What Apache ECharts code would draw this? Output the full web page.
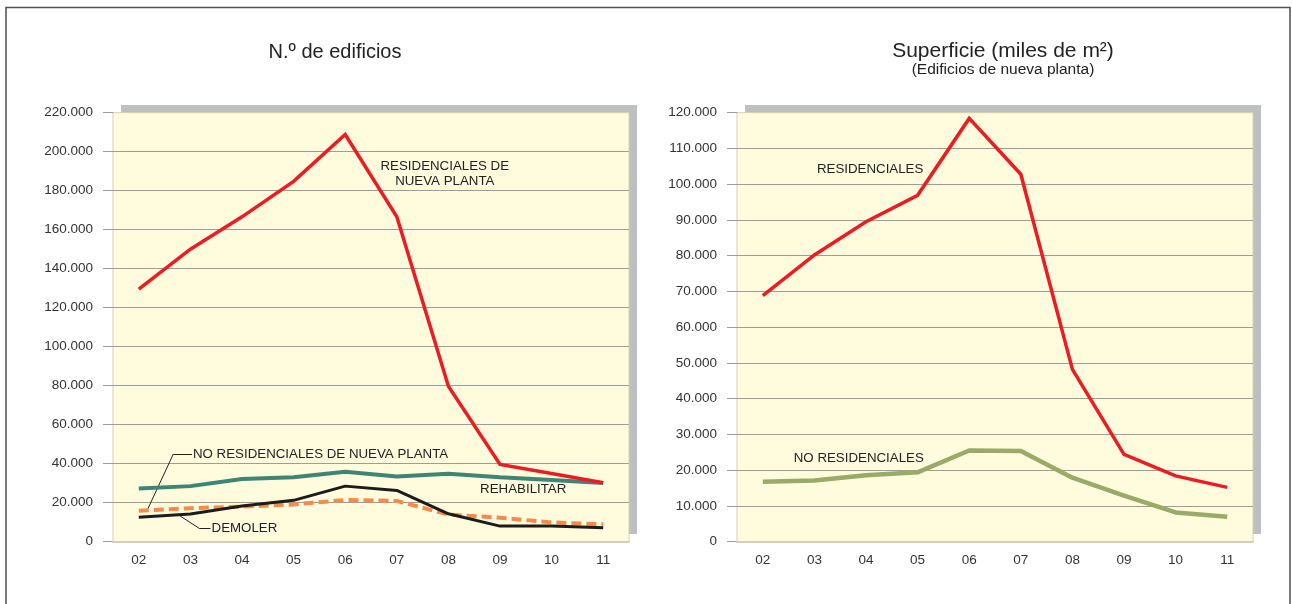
<!DOCTYPE html>
<html>
<head>
<meta charset="utf-8">
<script src="https://cdn.jsdelivr.net/npm/echarts@6/dist/echarts.min.js"></script>
<style>
html,body{margin:0;padding:0;background:#fff;}
#c{width:1292px;height:604px;}
</style>
</head>
<body>
<div id="c"></div>
<script>
// ---- data ----
const categories = ['02','03','04','05','06','07','08','09','10','11'];
// N.º de edificios
const resNuevaPlanta = [129500,150000,166600,184800,208800,166600,79700,39600,35000,30200];
const rehabilitar    = [27300,28500,32100,33100,35900,33400,34900,33100,31600,30100];
const demoler        = [12600,14200,18300,21200,28500,26300,14300,8000,8000,7200];
const noResNuevaPlanta = [15900,17200,18000,19100,21400,20900,13900,12300,9900,8900];
// Superficie (miles de m²)
const supResidenciales   = [68800,80200,89500,96900,118400,102800,48200,24400,18400,15200];
const supNoResidenciales = [16800,17100,18600,19400,25500,25400,17900,12900,8200,7000];
// axis settings
const leftMax = 220000, leftStep = 20000;
const rightMax = 120000, rightStep = 10000;
// titles / labels
const titleLeft = 'N.º de edificios';
const titleRight = 'Superficie (miles de m²)';
const subtitleRight = '(Edificios de nueva planta)';

const txtFont = '"Liberation Sans",Arial,Helvetica,sans-serif';

function thousands(v){
  return String(v).replace(/\B(?=(\d{3})+(?!\d))/g,'.');
}

const chart = echarts.init(document.getElementById('c'), null, {renderer:'canvas'});

const plotBg = '#fffbdd';
const plotBorder = '#d6d2ac';
const shadowCol = '#bdbfc1';
const gridCol = '#9c9c9c';

const G = {top:112.7, height:429, width:516};
const grids = [
  {left:113, top:G.top, width:G.width, height:G.height, show:true, backgroundColor:plotBg, borderColor:plotBorder, borderWidth:1, z:1},
  {left:737, top:G.top, width:G.width, height:G.height, show:true, backgroundColor:plotBg, borderColor:plotBorder, borderWidth:1, z:1},
  // decorative drop shadows
  {left:121, top:G.top-7.7, width:G.width, height:G.height, show:true, backgroundColor:shadowCol, borderWidth:0, z:0},
  {left:745, top:G.top-7.7, width:G.width, height:G.height, show:true, backgroundColor:shadowCol, borderWidth:0, z:0}
];

function xAx(gi){
  return {
    type:'category', gridIndex:gi, data:categories, boundaryGap:true,
    axisLine:{show:true, onZero:false, lineStyle:{color:'#d3d0b4', width:2}},
    axisTick:{show:false},
    axisLabel:{color:'#333', fontFamily:txtFont, fontSize:13.5, margin:12},
    splitLine:{show:false}, z:3
  };
}
function yAx(gi, max, step){
  return {
    type:'value', gridIndex:gi, min:0, max:max, interval:step,
    axisLine:{show:false, onZero:false},
    axisTick:{show:true, length:10, lineStyle:{color:gridCol, width:1}},
    axisLabel:{color:'#333', fontFamily:txtFont, fontSize:13.5, margin:20, formatter:thousands},
    splitLine:{show:true, showMaxLine:false, showMinLine:false, lineStyle:{color:gridCol, width:1}},
    z:2
  };
}
// helper value axes over the category axes (index space) for annotations
function xHelper(gi){
  return {type:'value', gridIndex:gi, min:-0.5, max:9.5, show:false,
    axisLine:{show:false, onZero:false}, axisTick:{show:false}, axisLabel:{show:false}, splitLine:{show:false}};
}
function hiddenAxis(type, gi){
  const a = {type:type, gridIndex:gi, show:false,
    axisLine:{show:false, onZero:false}, axisTick:{show:false}, axisLabel:{show:false}, splitLine:{show:false}};
  if (type === 'category') a.data = categories;
  return a;
}

const lbl = (txt, extra) => Object.assign({show:true, formatter:txt, color:'#222', fontFamily:txtFont, fontSize:13.3, position:'inside'}, extra||{});
const leaderStyle = {color:'#222', width:1, type:'solid'};

const series = [
  {
    name:'No residenciales de nueva planta', type:'line', xAxisIndex:0, yAxisIndex:0,
    data:noResNuevaPlanta, symbol:'none', z:3,
    lineStyle:{color:'#f28b4c', width:4, type:[10,5]}
  },
  {
    name:'Demoler', type:'line', xAxisIndex:0, yAxisIndex:0,
    data:demoler, symbol:'none', z:4,
    lineStyle:{color:'#1c1c1c', width:3}
  },
  {
    name:'Rehabilitar', type:'line', xAxisIndex:0, yAxisIndex:0,
    data:rehabilitar, symbol:'none', z:5,
    lineStyle:{color:'#3e8575', width:4}
  },
  {
    name:'Residenciales de nueva planta', type:'line', xAxisIndex:0, yAxisIndex:0,
    data:resNuevaPlanta, symbol:'none', z:6,
    lineStyle:{color:'#ea1d25', width:3.5, join:'miter'}
  },
  {
    name:'No residenciales', type:'line', xAxisIndex:1, yAxisIndex:1,
    data:supNoResidenciales, symbol:'none', z:3,
    lineStyle:{color:'#9aaa69', width:4.5}
  },
  {
    name:'Residenciales', type:'line', xAxisIndex:1, yAxisIndex:1,
    data:supResidenciales, symbol:'none', z:4,
    lineStyle:{color:'#ea1d25', width:3.5, join:'miter'}
  },
  // annotations, left chart
  {
    name:'notas-izq', type:'scatter', xAxisIndex:4, yAxisIndex:0, data:[], z:7, silent:true, symbolSize:0,
    markPoint:{symbol:'circle', symbolSize:0, silent:true, data:[
      {coord:[5.93,188600], label:lbl('RESIDENCIALES DE\nNUEVA PLANTA',{lineHeight:15, align:'center'})},
      {coord:[7.45,27000], label:lbl('REHABILITAR')},
      {coord:[1.05,45000], label:lbl('NO RESIDENCIALES DE NUEVA PLANTA',{position:'right', distance:0})},
      {coord:[1.41,6870], label:lbl('DEMOLER',{position:'right', distance:0})}
    ]},
    markLine:{symbol:'none', silent:true, label:{show:false}, lineStyle:leaderStyle, data:[
      [{coord:[0.67,45000]},{coord:[1.03,45000]}],
      [{coord:[0.67,45000]},{coord:[0.18,17100]}],
      [{coord:[0.80,13200]},{coord:[1.17,6870]}],
      [{coord:[1.17,6870]},{coord:[1.39,6870]}]
    ]}
  },
  // annotations, right chart
  {
    name:'notas-der', type:'scatter', xAxisIndex:5, yAxisIndex:1, data:[], z:7, silent:true, symbolSize:0,
    markPoint:{symbol:'circle', symbolSize:0, silent:true, data:[
      {coord:[2.08,104160], label:lbl('RESIDENCIALES')},
      {coord:[1.86,23330], label:lbl('NO RESIDENCIALES')}
    ]}
  }
];

const option = {
  animation:false,
  backgroundColor:'#fff',
  grid:grids,
  xAxis:[xAx(0), xAx(1),
    hiddenAxis('category',2), hiddenAxis('category',3),
    xHelper(0), xHelper(1)],
  yAxis:[yAx(0,leftMax,leftStep), yAx(1,rightMax,rightStep),
    hiddenAxis('value',2), hiddenAxis('value',3)],
  series:series,
  graphic:[
    {type:'rect', z:100, silent:true, shape:{x:6, y:7.5, width:1284, height:640},
      style:{fill:null, stroke:'#505050', lineWidth:1.5}},
    {type:'text', z:100, x:335, y:52, style:{text:titleLeft, font:'20px '+txtFont, fill:'#222', textAlign:'center', textVerticalAlign:'middle'}},
    {type:'text', z:100, x:1003, y:51, style:{text:titleRight, font:'21px '+txtFont, fill:'#222', textAlign:'center', textVerticalAlign:'middle'}},
    {type:'text', z:100, x:1003, y:69.5, style:{text:subtitleRight, font:'15.5px '+txtFont, fill:'#222', textAlign:'center', textVerticalAlign:'middle'}}
  ]
};
chart.setOption(option);
</script>
</body>
</html>
